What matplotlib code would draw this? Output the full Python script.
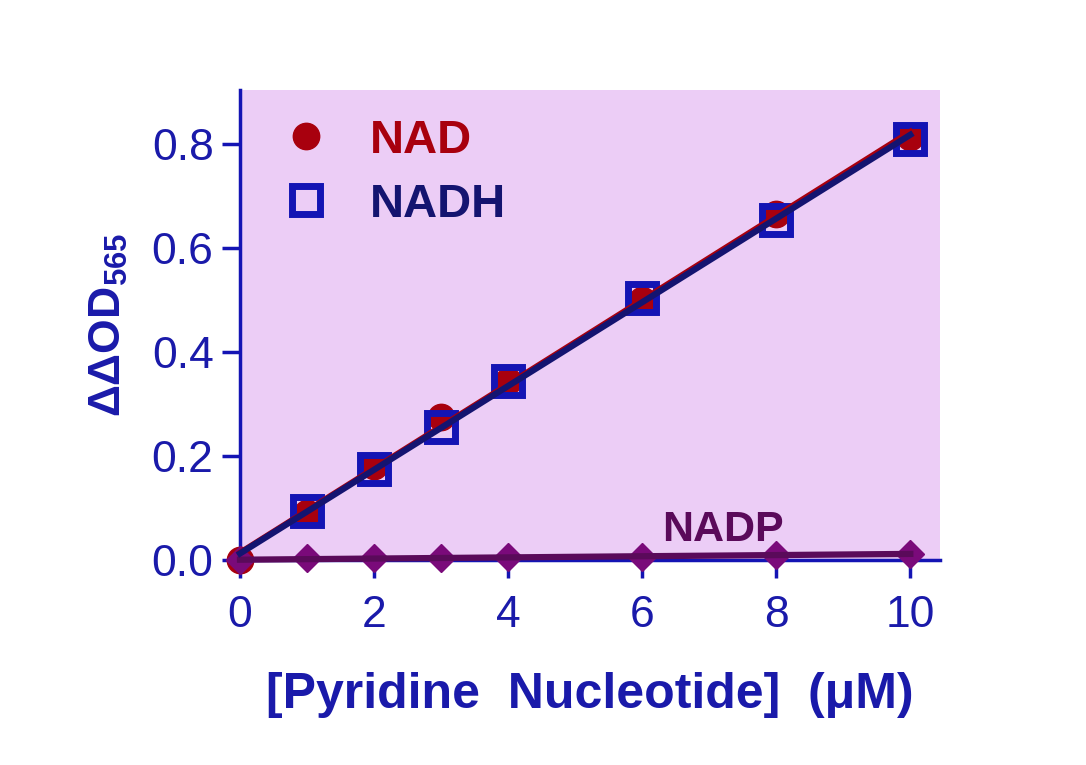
import numpy as np
import matplotlib
matplotlib.use("Agg")
import matplotlib.pyplot as plt

matplotlib.rcParams["font.family"] = ["Liberation Sans", "DejaVu Sans"]
matplotlib.rcParams["mathtext.fontset"] = "custom"
matplotlib.rcParams["mathtext.rm"] = "Liberation Sans"
matplotlib.rcParams["mathtext.bf"] = "Liberation Sans:bold"

# concentrations (uM) and readings
conc = [0, 1, 2, 3, 4, 6, 8, 10]
nad = [0.0, 0.09, 0.18, 0.275, 0.345, 0.50, 0.665, 0.815]
nadh_conc = [1, 2, 3, 4, 6, 8, 10]
nadh = [0.095, 0.175, 0.255, 0.345, 0.505, 0.655, 0.81]
nadp_conc = [0, 1, 2, 3, 4, 6, 8, 10]
nadp = [0.0, 0.003, 0.003, 0.003, 0.005, 0.006, 0.010, 0.012]

xticks = [0, 2, 4, 6, 8, 10]
yticks = [0.0, 0.2, 0.4, 0.6, 0.8]

RED = "#A8000E"
BLUE = "#1414B4"
NAVY = "#141470"
PURPLE = "#7A0A7A"
DARKPURPLE = "#5A0A5A"
BG = "#ECCDF6"
TXT = "#1A1AAA"

fig = plt.figure(figsize=(10.86, 7.65), dpi=100)
ax = fig.add_axes([0.221, 0.268, 0.645, 0.614])
ax.set_facecolor(BG)

ax.plot(conc, nad, "o", color=RED, ms=19, zorder=3, clip_on=False, label="NAD")
ax.plot(nadh_conc, nadh, "s", mfc="none", mec=BLUE, ms=20, mew=5, zorder=4,
        clip_on=False, label="NADH")
ax.plot(nadp_conc, nadp, "D", color=PURPLE, ms=14, zorder=3, clip_on=False)

# straight-line fits (NADH forced through the blank at 0)
xx = np.array([0, 10])
p = np.polyfit(conc, nad, 1)
ax.plot(xx, np.polyval(p, xx), color=RED, lw=4, zorder=5, clip_on=False)
p = np.polyfit([0] + nadh_conc, [0.0] + nadh, 1)
ax.plot(xx, np.polyval(p, xx), color=NAVY, lw=4.5, zorder=6, clip_on=False)
p = np.polyfit(nadp_conc, nadp, 1)
ax.plot(xx, np.polyval(p, xx), color=DARKPURPLE, lw=4.5, zorder=5, clip_on=False)

ax.set_xlim(0, 10.45)
ax.set_ylim(0, 0.904)
ax.set_xticks(xticks)
ax.set_yticks(yticks)
ax.set_yticklabels([f"{v:.1f}" for v in yticks])
for s in ["top", "right"]:
    ax.spines[s].set_visible(False)
for s in ["left", "bottom"]:
    ax.spines[s].set_color(BLUE)
    ax.spines[s].set_linewidth(2.5)
ax.tick_params(colors=BLUE, labelcolor=TXT, labelsize=32, length=13, width=2.5)
ax.tick_params(axis="x", pad=12)
ax.tick_params(axis="y", pad=6)

ax.set_xlabel("[Pyridine  Nucleotide]  (\u03bcM)", fontsize=36, fontweight="bold",
              color=TXT, labelpad=26)
ax.set_ylabel(r"$\mathbf{\Delta\Delta OD_{565}}$", fontsize=32, color=TXT, labelpad=16)

ax.text(7.2, 0.036, "NADP", fontsize=31, fontweight="bold", color=DARKPURPLE,
        ha="center", va="baseline")

leg = ax.legend(loc="upper left", bbox_to_anchor=(0.0, 1.03), frameon=False,
                fontsize=34, handlelength=1.0, handletextpad=0.85, labelspacing=0.42,
                labelcolor=[RED, NAVY])
for t in leg.get_texts():
    t.set_fontweight("bold")

fig.savefig("out.png", dpi=100)
